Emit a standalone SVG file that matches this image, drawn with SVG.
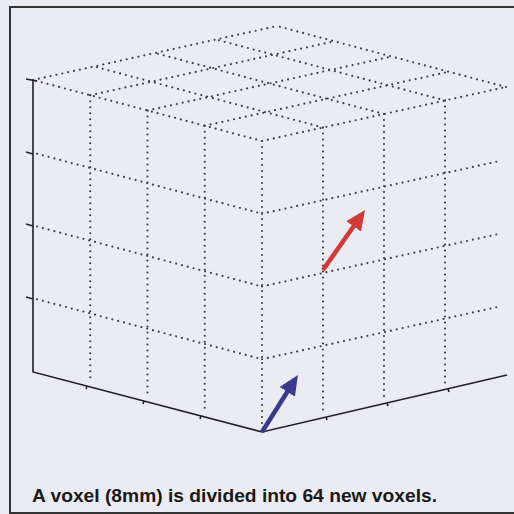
<svg xmlns="http://www.w3.org/2000/svg" width="514" height="514" viewBox="0 0 514 514">
<style>
.dot{fill:none;stroke:#404048;stroke-width:2.2;stroke-dasharray:0 6;stroke-linecap:round}
.ax{fill:none;stroke:#222;stroke-width:1.6}
.tk{fill:none;stroke:#222;stroke-width:1.6}
.cap{font-family:"Liberation Sans",Arial,sans-serif;font-size:18px;font-weight:bold;fill:#1a1a1a}
</style>
<defs>
<marker id="hr" viewBox="0 0 20 18" refX="6" refY="9" markerWidth="20" markerHeight="18" markerUnits="userSpaceOnUse" orient="auto"><path d="M0,0 L20,9 L0,18 z" fill="#d23a36"/></marker>
<marker id="hb" viewBox="0 0 20 18" refX="6" refY="9" markerWidth="20" markerHeight="18" markerUnits="userSpaceOnUse" orient="auto"><path d="M0,0 L20,9 L0,18 z" fill="#3a3a8c"/></marker>
</defs>
<rect x="0" y="0" width="514" height="514" fill="#eaebf3"/>
<rect x="10" y="7" width="512" height="506" fill="none" stroke="#333" stroke-width="2"/>
<g id="top-face">
<path class="dot" d="M262,141 L33,80 M323,127.5 L94,66.5 M384,114 L155,53 M445,100.5 L216,39.5 M506,87 L277,26"/>
<path class="dot" d="M262,141 L506,87 M204.75,125.75 L448.75,71.75 M147.5,110.5 L391.5,56.5 M90.25,95.25 L334.25,41.25 M33,80 L277,26"/>
</g>
<g id="left-face">
<path class="dot" d="M90.25,95.25 V380 M147.5,110.5 V395 M204.75,125.75 V410 M262,141 V427"/>
<path class="dot" d="M37,153.75 L262,213.75 M37,226.5 L262,286.5 M37,299.25 L262,359.25"/>
</g>
<g id="right-face">
<path class="dot" d="M323,127.5 V411 M384,114 V397 M445,100.5 V383"/>
<path class="dot" d="M262,213.75 L502,160.5 M262,286.5 L502,233.25 M262,359.25 L502,306"/>
</g>
<g id="axes">
<path class="ax" d="M33,80 V372 L262,432 L507,375"/>
<path class="tk" d="M26,79 L37,81 M26,152 L33,154 M26,224 L33,226 M26,297 L33,299"/>
<path class="tk" d="M87,386 l-1,3 M144,401 l-1,3 M201,416 l-1,3 M326,417 l1,3 M387,403 l1,3 M448,389 l1,3"/>
</g>
<g id="arrows">
<line x1="323" y1="270" x2="357" y2="221.5" stroke="#d23a36" stroke-width="4.5" marker-end="url(#hr)"/>
<line x1="262" y1="432" x2="290.5" y2="386.8" stroke="#3a3a8c" stroke-width="4.5" marker-end="url(#hb)"/>
</g>
<text class="cap" x="32" y="502" textLength="405" lengthAdjust="spacingAndGlyphs">A voxel (8mm) is divided into 64 new voxels.</text>
</svg>
